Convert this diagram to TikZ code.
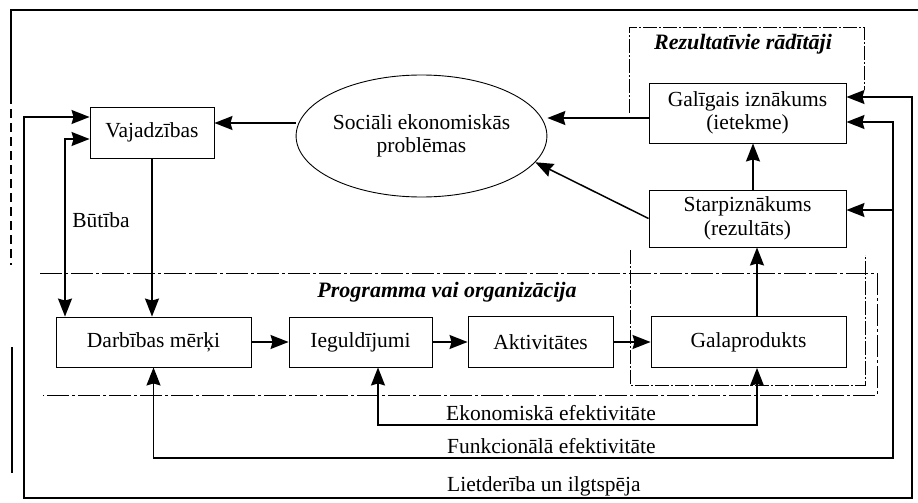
\documentclass[tikz,border=0pt]{standalone}
\usepackage{fontspec}
\setmainfont{Liberation Serif}
\usetikzlibrary{arrows.meta,shapes.geometric}
\newcommand\diagfont{\fontsize{21.5}{23.5}\selectfont}
\newcommand\titlefont{\fontsize{22}{24}\selectfont\bfseries\itshape}

\begin{document}
\begin{tikzpicture}[x=1pt,y=-1pt,
  box/.style={draw,line width=0.9pt,inner sep=0pt,align=center,font=\diagfont},
  lbl/.style={inner sep=0pt,font=\diagfont},
  ttl/.style={inner sep=0pt,font=\titlefont},
  arr/.style={line width=1.5pt,-{Stealth[length=18pt,width=14pt,inset=2pt]}},
  dblarr/.style={line width=1.5pt,{Stealth[length=18pt,width=14pt,inset=2pt]}-{Stealth[length=18pt,width=14pt,inset=2pt]}},
  frame/.style={line width=1.1pt},
  progzone/.style={line width=1pt,dash pattern=on 22pt off 3pt on 3pt off 3pt},
  reszone/.style={line width=0.8pt,dash pattern=on 14pt off 2pt on 2pt off 2pt}]

\useasboundingbox (0,0) rectangle (918,503);

% outer frame
\draw[frame] (10,10) -- (918,10);
\draw[frame] (11,10) -- (11,95);
\draw[frame,dash pattern=on 9pt off 5pt] (11,95) -- (11,265);
\draw[frame] (12,347) -- (12,473);

% zones
\draw[progzone] (40,273) -- (877,273) -- (877,395) -- (43,395);
\draw[reszone] (629,113) -- (629,27) -- (864,27) -- (864,90);
\draw[reszone] (630,250) -- (630,385) -- (865,385) -- (865,255);
\node[ttl] (restitle) at (743,44) {Rezultatīvie rādītāji};
\node[ttl] (progtitle) at (447,292) {Programma vai organizācija};

% nodes
\node[box,minimum width=124pt,minimum height=51pt] (vaj) at (152,132.5) {Vajadzības};
\node[draw,ellipse,line width=0.9pt,inner sep=0pt,align=center,font=\diagfont,
      minimum width=233pt,minimum height=122pt] (ell) at (421.5,136)
      {Sociāli ekonomiskās\\problēmas};
\node[box,minimum width=197pt,minimum height=60pt] (gal) at (747.5,113)
      {Galīgais iznākums\\(ietekme)};
\node[box,minimum width=197pt,minimum height=57pt] (star) at (747.5,218.5)
      {Starpiznākums\\(rezultāts)};
\node[box,minimum width=195pt,minimum height=50pt] (darb) at (153.5,342) {Darbības mērķi};
\node[box,minimum width=143pt,minimum height=50pt] (iegu) at (360.5,342) {Ieguldījumi};
\node[box,minimum width=145pt,minimum height=51pt] (akt) at (540.5,342) {Aktivitātes};
\node[box,minimum width=195pt,minimum height=51pt] (galp) at (748.5,342) {Galaprodukts};

% main flow
\draw[arr] (ell.west |- 0,123) -- (vaj.east |- 0,123);
\draw[arr] (gal.west |- 0,118) -- (ell.east |- 0,118);
\draw[arr] (star.west) -- (ell.-13);
\draw[arr] (star.north -| 753,0) -- (gal.south -| 753,0);
\draw[arr] (galp.north -| 757,0) -- (star.south -| 757,0);
\draw[arr] (darb.east) -- (iegu.west);
\draw[arr] (iegu.east) -- (akt.west);
\draw[arr] (akt.east) -- (galp.west);
\draw[arr] (vaj.south) -- (darb.north -| vaj.south);

% Būtība
\draw[dblarr] (vaj.west |- 0,139) -| (65,0 |- darb.north);
\node[lbl] (butiba) at (101,220) {Būtība};

% efficiency loops
\coordinate (lowleft) at (24,498);
\coordinate (lowright) at (912,498);
\coordinate (funright) at (893,458);
\coordinate (ekright) at (757,425);

\draw[dblarr] (vaj.west |- 0,117) -| (lowleft) -- (lowright) -- (lowright |- 0,97) -- (gal.east |- 0,97);
\draw[dblarr] (gal.east |- 0,122) -| (funright) -| (darb.south);
\draw[arr] (funright |- 0,210) -- (star.east |- 0,210);
\draw[dblarr] (iegu.south -| 378,0) |- (ekright) -- (galp.south -| ekright);

\node[lbl,anchor=base west] (ekon) at (446,420) {Ekonomiskā efektivitāte};
\node[lbl,anchor=base west] (funk) at (447,453) {Funkcionālā efektivitāte};
\node[lbl,anchor=base west] (liet) at (447,491) {Lietderība un ilgtspēja};
\end{tikzpicture}
\end{document}
